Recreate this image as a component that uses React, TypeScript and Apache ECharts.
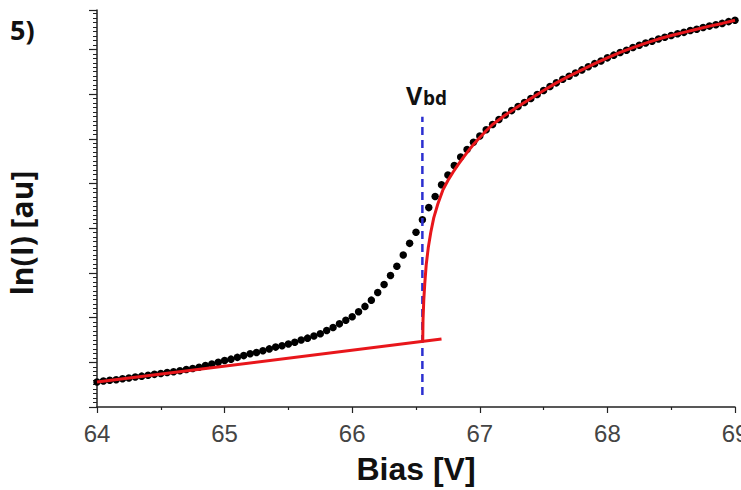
import React, { useEffect, useRef } from "react";
import * as echarts from "echarts";

// Measured points (black dots): bias [V] and ln(I) [au]
const biasV = [
  64.0, 64.05, 64.1, 64.15, 64.2, 64.25, 64.3, 64.35, 64.4, 64.45,
  64.5, 64.55, 64.6, 64.65, 64.7, 64.75, 64.8, 64.85, 64.9, 64.95,
  65.0, 65.05, 65.1, 65.15, 65.2, 65.25, 65.3, 65.35, 65.4, 65.45,
  65.5, 65.55, 65.6, 65.65, 65.7, 65.75, 65.8, 65.85, 65.9, 65.95,
  66.0, 66.05, 66.1, 66.15, 66.2, 66.25, 66.3, 66.35, 66.4, 66.45,
  66.5, 66.55, 66.6, 66.65, 66.7, 66.75, 66.8, 66.85, 66.9, 66.95,
  67.0, 67.05, 67.1, 67.15, 67.2, 67.25, 67.3, 67.35, 67.4, 67.45,
  67.5, 67.55, 67.6, 67.65, 67.7, 67.75, 67.8, 67.85, 67.9, 67.95,
  68.0, 68.05, 68.1, 68.15, 68.2, 68.25, 68.3, 68.35, 68.4, 68.45,
  68.5, 68.55, 68.6, 68.65, 68.7, 68.75, 68.8, 68.85, 68.9, 68.95,
  69.0,
];
const lnI = [
  0.56, 0.58, 0.6, 0.61, 0.63, 0.65, 0.67, 0.69, 0.71, 0.73,
  0.75, 0.77, 0.79, 0.81, 0.84, 0.86, 0.89, 0.93, 0.96, 1.0,
  1.04, 1.07, 1.11, 1.15, 1.19, 1.22, 1.26, 1.3, 1.34, 1.37,
  1.41, 1.45, 1.5, 1.54, 1.59, 1.64, 1.71, 1.78, 1.86, 1.94,
  2.02, 2.13, 2.25, 2.39, 2.56, 2.74, 2.94, 3.15, 3.4, 3.66,
  3.91, 4.19, 4.46, 4.71, 4.97, 5.19, 5.4, 5.59, 5.76, 5.92,
  6.06, 6.2, 6.32, 6.43, 6.53, 6.63, 6.72, 6.81, 6.9, 6.99,
  7.08, 7.17, 7.25, 7.33, 7.4, 7.47, 7.54, 7.61, 7.68, 7.74,
  7.81, 7.87, 7.93, 7.98, 8.04, 8.09, 8.14, 8.18, 8.23, 8.27,
  8.31, 8.35, 8.38, 8.42, 8.45, 8.49, 8.52, 8.55, 8.58, 8.62,
  8.65,
];

// Red fit below breakdown (linear)
const fitLowX = [64.0, 66.7];
const fitLowY = [0.56, 1.52];

// Red fit above breakdown
const fitUpX = [
  66.553, 66.555, 66.561, 66.569, 66.58, 66.596, 66.616, 66.639, 66.671, 66.71,
  66.749, 66.79, 66.83, 66.87, 66.91, 66.95, 67.0, 67.05, 67.1, 67.2,
  67.3, 67.4, 67.5, 67.6, 67.7, 67.8, 67.9, 68.0, 68.1, 68.2,
  68.3, 68.4, 68.5, 68.6, 68.7, 68.8, 68.9, 69.0,
];
const fitUpY = [
  1.5, 1.95, 2.39, 2.77, 3.18, 3.56, 3.91, 4.23, 4.54, 4.85,
  5.06, 5.25, 5.42, 5.58, 5.73, 5.87, 6.03, 6.18, 6.32, 6.53,
  6.72, 6.9, 7.08, 7.25, 7.4, 7.54, 7.68, 7.81, 7.93, 8.04,
  8.14, 8.23, 8.31, 8.38, 8.45, 8.52, 8.58, 8.65,
];

// Breakdown voltage marker
const vbdX = [66.55, 66.55];
const vbdY = [0.27, 6.49];

const xTicks = [64, 65, 66, 67, 68, 69];

const zip = (a: number[], b: number[]) => a.map((v, i) => [v, b[i]]);

export default function App() {
  const ref = useRef<HTMLDivElement>(null);
  useEffect(() => {
    const chart = echarts.init(ref.current!, null, { renderer: "svg" });
    chart.setOption({
      animation: false,
      backgroundColor: "#ffffff",
      grid: { left: 97, right: 6, top: 10, bottom: 83, containLabel: false, outerBoundsMode: "none" },
      xAxis: {
        type: "value",
        min: xTicks[0],
        max: xTicks[xTicks.length - 1],
        interval: 1,
        axisLine: { show: true, onZero: false, lineStyle: { color: "#222", width: 1.5 } },
        axisTick: { show: true, inside: false, length: 6, lineStyle: { color: "#222", width: 1.2 } },
        minorTick: { show: true, splitNumber: 2, length: 3, lineStyle: { color: "#222", width: 1.2 } },
        splitLine: { show: false },
        axisLabel: {
          show: true,
          margin: 14,
          fontSize: 24,
          color: "#444",
          fontFamily: "Liberation Sans, Arial, sans-serif",
          showMaxLabel: true,
          showMinLabel: true,
        },
        name: "Bias [V]",
        nameLocation: "middle",
        nameGap: 46,
        nameTextStyle: {
          fontSize: 32,
          fontWeight: "bold",
          color: "#111",
          fontFamily: "Liberation Sans, Arial, sans-serif",
        },
      },
      yAxis: {
        type: "value",
        min: 0,
        max: 8.88,
        interval: 1,
        axisLine: { show: true, onZero: false, lineStyle: { color: "#222", width: 1.5 } },
        axisTick: { show: true, inside: false, length: 8, lineStyle: { color: "#222", width: 1.2 } },
        minorTick: { show: true, splitNumber: 10, length: 4, lineStyle: { color: "#222", width: 1 } },
        splitLine: { show: false },
        axisLabel: { show: false },
      },
      series: [
        {
          type: "scatter",
          data: zip(biasV, lnI),
          symbol: "circle",
          symbolSize: 7.5,
          itemStyle: { color: "#000", opacity: 1 },
          z: 2,
          silent: true,
        },
        {
          type: "line",
          data: zip(vbdX, vbdY),
          symbol: "none",
          lineStyle: { color: "#2b2fd0", width: 2.5, type: [8, 5] },
          z: 3,
          silent: true,
        },
        {
          type: "line",
          data: zip(fitLowX, fitLowY),
          symbol: "none",
          lineStyle: { color: "#e8161b", width: 3 },
          z: 4,
          silent: true,
        },
        {
          type: "line",
          data: zip(fitUpX, fitUpY),
          symbol: "none",
          lineStyle: { color: "#e8161b", width: 3 },
          z: 4,
          silent: true,
        },
      ],
      graphic: [
        {
          type: "text",
          x: 10,
          y: 29.5,
          style: {
            text: "5)",
            fontSize: 27,
            fontWeight: "bold",
            fontFamily: "Open Sans, sans-serif",
            fill: "#111",
            align: "left",
            verticalAlign: "middle",
          },
        },
        {
          type: "text",
          x: 21.5,
          y: 233,
          rotation: Math.PI / 2,
          style: {
            text: "ln(I) [au]",
            fontSize: 30,
            fontWeight: "bold",
            fontFamily: "Open Sans, sans-serif",
            fill: "#111",
            align: "center",
            verticalAlign: "middle",
          },
        },
        {
          type: "text",
          x: 406,
          y: 95.3,
          style: {
            text: "V",
            fontSize: 25,
            fontWeight: "bold",
            fontFamily: "Open Sans, sans-serif",
            fill: "#111",
            align: "left",
            verticalAlign: "middle",
          },
        },
        {
          type: "text",
          x: 423,
          y: 97.6,
          style: {
            text: "bd",
            fontSize: 19,
            fontWeight: "bold",
            fontFamily: "Open Sans, sans-serif",
            fill: "#111",
            align: "left",
            verticalAlign: "middle",
          },
        },
      ],
    });
    return () => chart.dispose();
  }, []);
  return (
    <div
      ref={ref}
      style={{ position: "fixed", left: 0, top: 0, width: 741, height: 490, background: "#fff" }}
    />
  );
}
